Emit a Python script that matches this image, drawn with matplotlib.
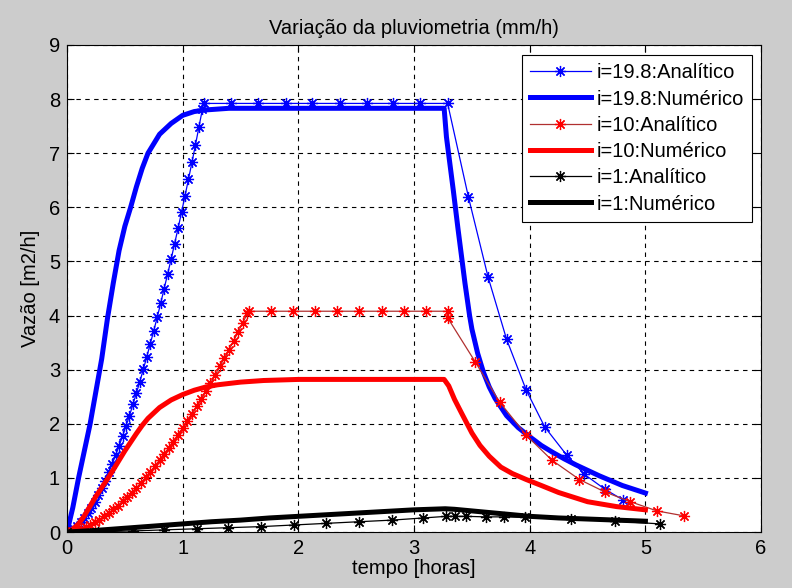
import matplotlib
matplotlib.use("Agg")
import matplotlib.pyplot as plt

plt.rcParams['font.family'] = ['Liberation Sans', 'DejaVu Sans']

# i = 19.8 : analitico (marcadores)
t_a198 = [0.00, 0.03, 0.06, 0.09, 0.12, 0.15, 0.18, 0.21, 0.24, 0.27, 0.30, 0.33, 0.36, 0.39,
          0.42, 0.45, 0.48, 0.51, 0.54, 0.57, 0.60, 0.63, 0.66, 0.69, 0.72, 0.75, 0.78, 0.81,
          0.84, 0.87, 0.90, 0.93, 0.96, 0.99, 1.02, 1.05, 1.08, 1.11, 1.14, 1.17, 1.18,
          1.42, 1.65, 1.89, 2.12, 2.36, 2.59, 2.82, 3.05, 3.29,
          3.47, 3.64, 3.80, 3.97, 4.13, 4.32, 4.47, 4.65, 4.81]
q_a198 = [0.00, 0.02, 0.06, 0.11, 0.18, 0.25, 0.35, 0.45, 0.56, 0.68, 0.81, 0.95, 1.10, 1.25,
          1.42, 1.59, 1.77, 1.96, 2.15, 2.36, 2.57, 2.78, 3.01, 3.24, 3.48, 3.72, 3.97, 4.23,
          4.50, 4.77, 5.04, 5.33, 5.61, 5.91, 6.21, 6.52, 6.83, 7.15, 7.48, 7.81, 7.92,
          7.92, 7.92, 7.92, 7.92, 7.92, 7.92, 7.92, 7.92, 7.92,
          6.19, 4.71, 3.56, 2.62, 1.94, 1.42, 1.07, 0.79, 0.59]

# i = 19.8 : numerico
t_n198 = [0.00, 0.05, 0.10, 0.15, 0.20, 0.25, 0.30, 0.35, 0.40, 0.45, 0.50, 0.55, 0.60, 0.65,
          0.70, 0.80, 0.90, 1.00, 1.10, 1.20, 1.40, 2.00, 3.26, 3.28, 3.34, 3.38, 3.44, 3.48,
          3.50, 3.55, 3.60, 3.65, 3.70, 3.80, 3.90, 4.00, 4.10, 4.20, 4.30, 4.40, 4.50, 4.60,
          4.70, 4.80, 4.90, 5.00]
q_n198 = [0.00, 0.45, 1.00, 1.50, 2.00, 2.60, 3.20, 3.95, 4.60, 5.20, 5.65, 6.00, 6.38, 6.72,
          7.00, 7.35, 7.55, 7.70, 7.77, 7.80, 7.83, 7.83, 7.83, 7.30, 6.30, 5.60, 4.60, 4.00,
          3.75, 3.30, 2.95, 2.68, 2.47, 2.15, 1.93, 1.76, 1.60, 1.47, 1.35, 1.24, 1.14, 1.04,
          0.95, 0.86, 0.79, 0.72]

# i = 10 : analitico
t_a10 = [0.00, 0.04, 0.08, 0.12, 0.16, 0.20, 0.24, 0.28, 0.32, 0.36, 0.40, 0.44, 0.48, 0.52,
         0.56, 0.60, 0.64, 0.68, 0.72, 0.76, 0.80, 0.84, 0.88, 0.92, 0.96, 1.00, 1.04, 1.08,
         1.12, 1.16, 1.20, 1.24, 1.28, 1.32, 1.36, 1.40, 1.44, 1.48, 1.52, 1.56, 1.57,
         1.76, 1.95, 2.14, 2.33, 2.52, 2.72, 2.91, 3.10, 3.29,
         3.29, 3.53, 3.74, 3.97, 4.19, 4.43, 4.65, 4.87, 5.10, 5.33]
q_a10 = [0.00, 0.01, 0.03, 0.06, 0.09, 0.13, 0.18, 0.23, 0.29, 0.35, 0.42, 0.49, 0.57, 0.65,
         0.73, 0.82, 0.91, 1.01, 1.11, 1.22, 1.33, 1.44, 1.56, 1.67, 1.80, 1.92, 2.05, 2.19,
         2.32, 2.46, 2.61, 2.75, 2.90, 3.06, 3.21, 3.37, 3.53, 3.70, 3.87, 4.04, 4.08,
         4.08, 4.08, 4.08, 4.08, 4.08, 4.08, 4.08, 4.08, 4.08,
         3.96, 3.14, 2.40, 1.79, 1.33, 0.97, 0.74, 0.56, 0.39, 0.30]

# i = 10 : numerico
t_n10 = [0.00, 0.05, 0.10, 0.15, 0.20, 0.25, 0.30, 0.35, 0.40, 0.50, 0.60, 0.65, 0.70, 0.80,
         0.90, 1.00, 1.10, 1.20, 1.30, 1.50, 1.70, 2.00, 3.26, 3.30, 3.35, 3.41, 3.50, 3.57,
         3.65, 3.75, 3.85, 3.97, 4.10, 4.25, 4.50, 4.75, 5.00]
q_n10 = [0.00, 0.05, 0.15, 0.30, 0.48, 0.66, 0.82, 0.98, 1.15, 1.50, 1.82, 1.97, 2.10, 2.30,
         2.44, 2.54, 2.62, 2.68, 2.72, 2.77, 2.80, 2.82, 2.82, 2.70, 2.45, 2.20, 1.83, 1.60,
         1.40, 1.20, 1.08, 0.97, 0.86, 0.73, 0.56, 0.47, 0.41]

# i = 1 : analitico
t_a1 = [0.00, 0.27, 0.57, 0.84, 1.12, 1.39, 1.68, 1.96, 2.24, 2.52, 2.81, 3.08, 3.28,
        3.35, 3.45, 3.62, 3.78, 3.96, 4.36, 4.74, 5.13]
q_a1 = [0.00, 0.005, 0.02, 0.04, 0.06, 0.08, 0.10, 0.13, 0.16, 0.19, 0.22, 0.26, 0.29,
        0.29, 0.29, 0.28, 0.28, 0.27, 0.24, 0.20, 0.15]

# i = 1 : numerico
t_n1 = [0.00, 0.25, 0.50, 0.75, 1.00, 1.25, 1.50, 1.75, 2.00, 2.25, 2.50, 2.75, 3.00, 3.27,
        3.35, 3.50, 3.70, 4.00, 4.25, 4.50, 4.75, 5.00]
q_n1 = [0.00, 0.03, 0.07, 0.11, 0.15, 0.19, 0.22, 0.26, 0.29, 0.32, 0.35, 0.38, 0.41, 0.43,
        0.42, 0.39, 0.35, 0.29, 0.26, 0.24, 0.22, 0.20]

fs = 14.5

fig = plt.figure(figsize=(7.92, 5.88), dpi=100, facecolor='#cccccc')
ax = fig.add_axes([0.0846, 0.0952, 0.8764, 0.8283])

# asterisco estilo matlab
mk = dict(marker=(8, 2, 0), markersize=8, markeredgewidth=0.9, linewidth=0.9)
ax.plot(t_a198, q_a198, color='blue', label='i=19.8:Analítico', **mk)
ax.plot(t_n198, q_n198, color='blue', linewidth=3.6, label='i=19.8:Numérico')
ax.plot(t_a10, q_a10, color='#b03030', markeredgecolor='red',
        label='i=10:Analítico', **mk)
ax.plot(t_n10, q_n10, color='red', linewidth=3.6, label='i=10:Numérico')
ax.plot(t_a1, q_a1, color='black', label='i=1:Analítico', **mk)
ax.plot(t_n1, q_n1, color='black', linewidth=3.6, label='i=1:Numérico')

ax.set_xlim(0, 6)
ax.set_ylim(0, 9)
ax.set_xticks(range(0, 7))
ax.set_yticks(range(0, 10))
ax.grid(True, color='black', linestyle=(0, (4, 4)), linewidth=0.8)
ax.tick_params(direction='in', top=True, right=True, labelsize=fs, length=5, pad=5)
for s in ax.spines.values():
    s.set_linewidth(0.8)

ax.set_title('Variação da pluviometria (mm/h)', fontsize=fs, pad=8)
ax.set_xlabel('tempo [horas]', fontsize=fs, labelpad=1)
ax.set_ylabel('Vazão [m2/h]', fontsize=fs, labelpad=6)

leg = ax.legend(loc='upper right', bbox_to_anchor=(0.987, 0.979), fontsize=fs,
                fancybox=False, framealpha=1, edgecolor='black', handlelength=3.0,
                borderaxespad=0, labelspacing=0.36, borderpad=0.4, handletextpad=0.3)
leg.get_frame().set_linewidth(0.8)

fig.savefig('out.png', dpi=100, facecolor=fig.get_facecolor())
